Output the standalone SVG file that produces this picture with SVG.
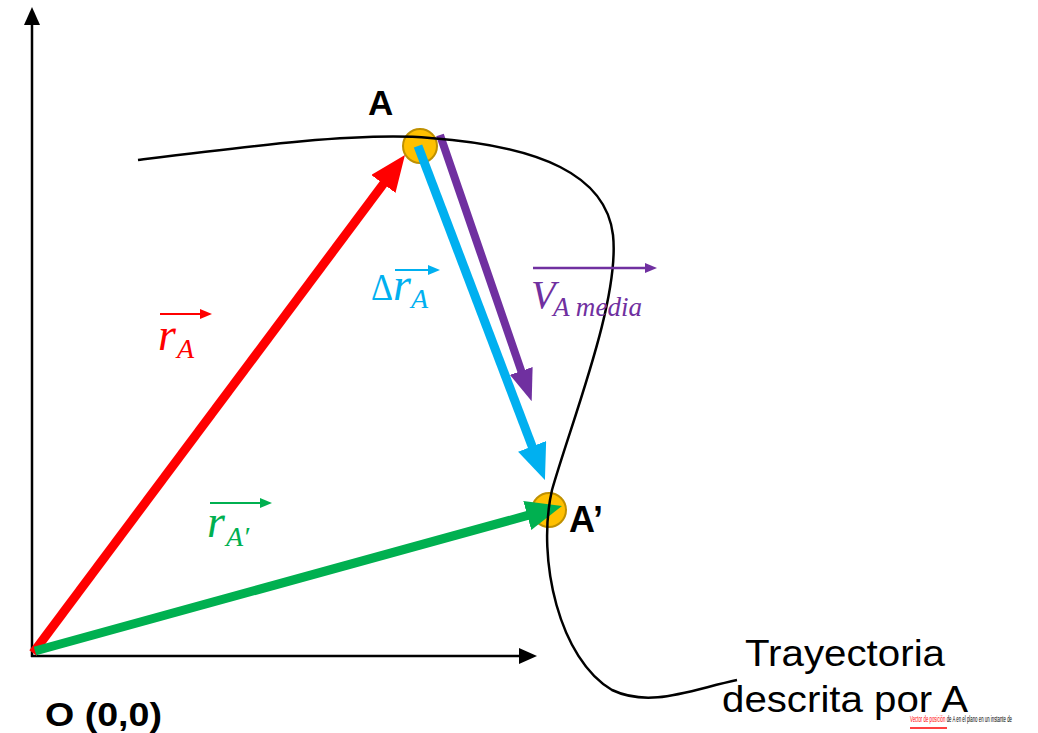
<svg xmlns="http://www.w3.org/2000/svg" width="1038" height="733" viewBox="0 0 1038 733">
<style>
.axis{stroke:#000;stroke-width:2.5;fill:none}
.vec{fill:none;stroke-linecap:butt}
.pt{fill:#FFC000;stroke:#BF9000;stroke-width:2}
.lbl{font-family:"Liberation Sans",Arial,sans-serif;font-weight:bold;fill:#000}
.txt{font-family:"Liberation Sans",Arial,sans-serif;fill:#000}
.math{font-family:"Liberation Serif","Times New Roman",serif;font-style:italic}
</style>
<defs>
<marker id="ax" markerUnits="userSpaceOnUse" markerWidth="18" markerHeight="16" refX="2" refY="8" orient="auto"><path d="M0,0 L18,8 L0,16 Z" fill="#000"/></marker>
<marker id="hRed" markerUnits="userSpaceOnUse" markerWidth="36" markerHeight="30" refX="5" refY="15" orient="auto"><path d="M0,0 L36,15 L0,30 Z" fill="#FF0000"/></marker>
<marker id="hBlue" markerUnits="userSpaceOnUse" markerWidth="36" markerHeight="30" refX="5" refY="15" orient="auto"><path d="M0,0 L36,15 L0,30 Z" fill="#00B0F0"/></marker>
<marker id="hPur" markerUnits="userSpaceOnUse" markerWidth="32" markerHeight="24" refX="5" refY="12" orient="auto"><path d="M0,0 L32,12 L0,24 Z" fill="#7030A0"/></marker>
<marker id="hGrn" markerUnits="userSpaceOnUse" markerWidth="36" markerHeight="30" refX="5" refY="15" orient="auto"><path d="M0,0 L36,15 L0,30 Z" fill="#00B050"/></marker>
<marker id="sm" markerUnits="userSpaceOnUse" markerWidth="12" markerHeight="10" refX="2" refY="5" orient="auto"><path d="M0,0 L12,5 L0,10 Z" fill="context-stroke"/></marker>
</defs>

<g id="axes">
<line class="axis" x1="32" y1="657" x2="32" y2="23" marker-end="url(#ax)"/>
<line class="axis" x1="31" y1="656" x2="521" y2="656" marker-end="url(#ax)"/>
</g>

<g id="pointA"><circle class="pt" cx="420" cy="146" r="17"/></g>
<g id="pointA2"><circle class="pt" cx="549" cy="510" r="17"/></g>

<g id="connectors">
<line class="vec" stroke="#FF0000" stroke-width="9" x1="33" y1="653" x2="386.4" y2="179.9" marker-end="url(#hRed)"/>
<line class="vec" stroke="#00B0F0" stroke-width="9" x1="418" y1="146" x2="533.9" y2="451" marker-end="url(#hBlue)"/>
<line class="vec" stroke="#7030A0" stroke-width="8" x1="440" y1="135" x2="522.9" y2="375.7" marker-end="url(#hPur)"/>
<line class="vec" stroke="#00B050" stroke-width="9" x1="35" y1="651" x2="532.1" y2="514.2" marker-end="url(#hGrn)"/>
</g>

<g id="trajectory">
<path d="M138,160 C250,146 360,132 430,138 C540,146 606,175 613,235 C620,300 572,420 552,490 C536,560 560,660 612,690 C650,708 690,690 737,680" fill="none" stroke="#000" stroke-width="2.5"/>
</g>

<g id="labels">
<text class="lbl" x="368" y="115" font-size="35">A</text>
<text class="lbl" x="569" y="532" font-size="36">A’</text>
<text class="lbl" x="45" y="726" font-size="34" textLength="117" lengthAdjust="spacingAndGlyphs">O (0,0)</text>
<text class="txt" x="745" y="666" font-size="37" textLength="200" lengthAdjust="spacingAndGlyphs">Trayectoria</text>
<text class="txt" x="722" y="712" font-size="37" textLength="246" lengthAdjust="spacingAndGlyphs">descrita por A</text>
<g font-family="'Liberation Sans Narrow','Liberation Sans',Arial,sans-serif" font-size="9">
<text x="910" y="722" textLength="102" lengthAdjust="spacingAndGlyphs"><tspan fill="#FF0000">Vector de posición</tspan><tspan fill="#000"> de A en el plano en un instante de</tspan></text>
</g>
<line x1="910" y1="728" x2="947" y2="728" stroke="#FF0000" stroke-width="1.5"/>
</g>

<g id="label-rA" fill="#FF0000" stroke="#FF0000">
<text class="math" x="158" y="350" font-size="46" stroke="none">r</text>
<text class="math" x="177" y="358" font-size="28" stroke="none">A</text>
<line x1="160" y1="314" x2="202" y2="314" stroke-width="2" marker-end="url(#sm)"/>
</g>

<g id="label-drA" fill="#00B0F0" stroke="#00B0F0">
<text x="371" y="300" font-size="38" stroke="none" font-family="'Liberation Serif',serif" textLength="22" lengthAdjust="spacingAndGlyphs">Δ</text>
<text class="math" x="393" y="300" font-size="46" stroke="none">r</text>
<text class="math" x="411" y="308" font-size="28" stroke="none">A</text>
<line x1="395" y1="270" x2="430" y2="270" stroke-width="2" marker-end="url(#sm)"/>
</g>

<g id="label-VA" fill="#7030A0" stroke="#7030A0">
<text class="math" x="531" y="308" font-size="40" stroke="none">V</text>
<text class="math" x="553" y="316" font-size="28" stroke="none" textLength="89" lengthAdjust="spacingAndGlyphs">A media</text>
<line x1="533" y1="268" x2="647" y2="268" stroke-width="2.5" marker-end="url(#sm)"/>
</g>

<g id="label-rA2" fill="#00B050" stroke="#00B050">
<text class="math" x="207" y="537" font-size="46" stroke="none">r</text>
<text class="math" x="226" y="546" font-size="28" stroke="none">A′</text>
<line x1="210" y1="503" x2="262" y2="503" stroke-width="2" marker-end="url(#sm)"/>
</g>
</svg>
